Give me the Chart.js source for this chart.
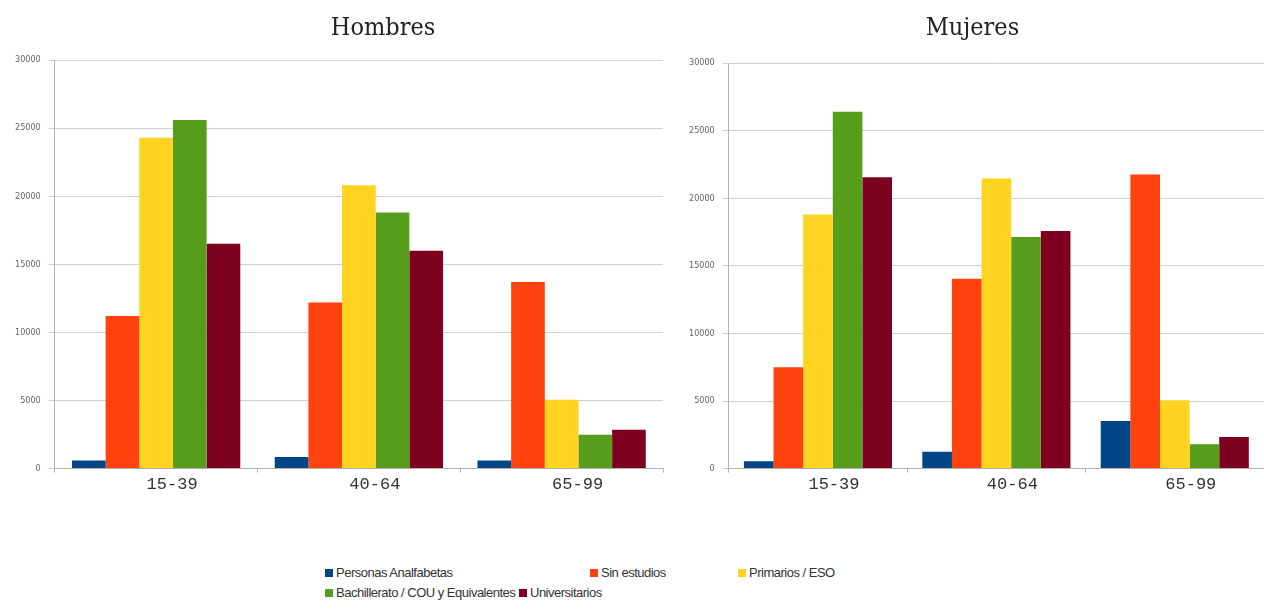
<!DOCTYPE html>
<html>
<head>
<meta charset="utf-8">
<script src="https://cdn.jsdelivr.net/npm/chart.js@4"></script>
<style>
  body { margin: 0; background: #fff; width: 1264px; height: 613px; overflow: hidden; position: relative; }
  .box { position: absolute; top: 0; height: 505px; }
  #boxH { left: 0; width: 668px; }
  #boxM { left: 668px; width: 596px; }
  #legend { position: absolute; left: 325px; top: 563px; width: 560px; font-family: "Liberation Sans", sans-serif; font-size: 13px; letter-spacing: -0.5px; color: #333; line-height: 20px; }
  #legend .item { display: inline-block; white-space: nowrap; }
  #legend .item:nth-child(1) { width: 265px; }
  #legend .item:nth-child(2) { width: 148px; }
  #legend .item:nth-child(5) { width: 194px; }
  #legend .sw { display: inline-block; width: 8px; height: 8px; margin-right: 3px; }
</style>
</head>
<body>
<div class="box" id="boxH"><canvas id="chartH"></canvas></div>
<div class="box" id="boxM"><canvas id="chartM"></canvas></div>
<div id="legend"></div>
<script>
document.addEventListener("DOMContentLoaded", function() {
    // Datos
    const grupos = ["15-39", "40-64", "65-99"];
    const niveles = ["Personas Analfabetas", "Sin estudios", "Primarios / ESO", "Bachillerato / COU y Equivalentes", "Universitarios"];
    const colores = ["#004586", "#ff420e", "#ffd320", "#579d1c", "#7e0021"];

    // Hombres, por nivel (15-39, 40-64, 65-99)
    const hombresAnalfabetas = [600, 850, 600];
    const hombresSinEstudios = [11200, 12200, 13700];
    const hombresPrimarios = [24300, 20800, 5050];
    const hombresBachillerato = [25600, 18800, 2480];
    const hombresUniversitarios = [16500, 16000, 2850];

    // Mujeres
    const mujeresAnalfabetas = [550, 1250, 3520];
    const mujeresSinEstudios = [7500, 14050, 21750];
    const mujeresPrimarios = [18800, 21450, 5050];
    const mujeresBachillerato = [26400, 17130, 1800];
    const mujeresUniversitarios = [21550, 17570, 2340];

    const yTicks = [0, 5000, 10000, 15000, 20000, 25000, 30000];

    // desplaza el título horizontalmente (en el original no está centrado sobre el gráfico)
    const titleShift = {
        id: 'titleShift',
        afterLayout(chart, args, opts) {
            if (chart.titleBlock && opts.dx) {
                chart.titleBlock.left += opts.dx;
                chart.titleBlock.right += opts.dx;
            }
        }
    };

    function makeDatasets(series) {
        return series.map((vals, i) => ({
            label: niveles[i],
            data: vals,
            backgroundColor: colores[i],
            borderWidth: 0,
            barPercentage: 1.0,
            categoryPercentage: 0.83
        }));
    }

    function makeChart(canvasId, titulo, series, pad, titlePad, dx) {
        new Chart(document.getElementById(canvasId).getContext("2d"), {
            type: 'bar',
            data: { labels: grupos, datasets: makeDatasets(series) },
            plugins: [titleShift],
            options: {
                responsive: true,
                maintainAspectRatio: false,
                animation: false,
                layout: { padding: pad },
                plugins: {
                    legend: { display: false },
                    tooltip: { enabled: false },
                    titleShift: { dx: dx },
                    title: {
                        display: true,
                        text: titulo,
                        color: '#222',
                        font: { family: 'DejaVu Serif Condensed', size: 25, weight: 'normal' },
                        padding: titlePad
                    }
                },
                scales: {
                    x: {
                        grid: { display: true, offset: true, drawOnChartArea: false, tickLength: 4, color: '#b3b3b3' },
                        border: { color: '#b3b3b3' },
                        ticks: { color: '#333', padding: 2, labelOffset: 16, font: { family: 'Liberation Mono', size: 17 } }
                    },
                    y: {
                        min: 0,
                        max: 30000,
                        afterBuildTicks: axis => { axis.ticks = yTicks.map(v => ({ value: v })); },
                        grid: { color: '#cfcfcf', tickLength: 6 },
                        border: { color: '#b3b3b3' },
                        ticks: { color: '#666', padding: 8, font: { family: 'DejaVu Sans Condensed', size: 9 },
                                 callback: v => String(v) }
                    }
                }
            }
        });
    }

    makeChart("chartH", "Hombres",
        [hombresAnalfabetas, hombresSinEstudios, hombresPrimarios, hombresBachillerato, hombresUniversitarios],
        { left: 7, right: 5, top: 13, bottom: 8 }, { top: 0, bottom: 17 }, 48);
    makeChart("chartM", "Mujeres",
        [mujeresAnalfabetas, mujeresSinEstudios, mujeresPrimarios, mujeresBachillerato, mujeresUniversitarios],
        { left: 13, right: 0, top: 13, bottom: 8 }, { top: 0, bottom: 20 }, 0);

    // Leyenda común
    const legend = document.getElementById("legend");
    niveles.forEach((nombre, i) => {
        const item = document.createElement("span");
        item.className = "item";
        item.innerHTML = '<span class="sw" style="background:' + colores[i] + '"></span>' + nombre;
        legend.appendChild(item);
        if (i === 2) legend.appendChild(document.createElement("br"));
    });
});
</script>
</body>
</html>
